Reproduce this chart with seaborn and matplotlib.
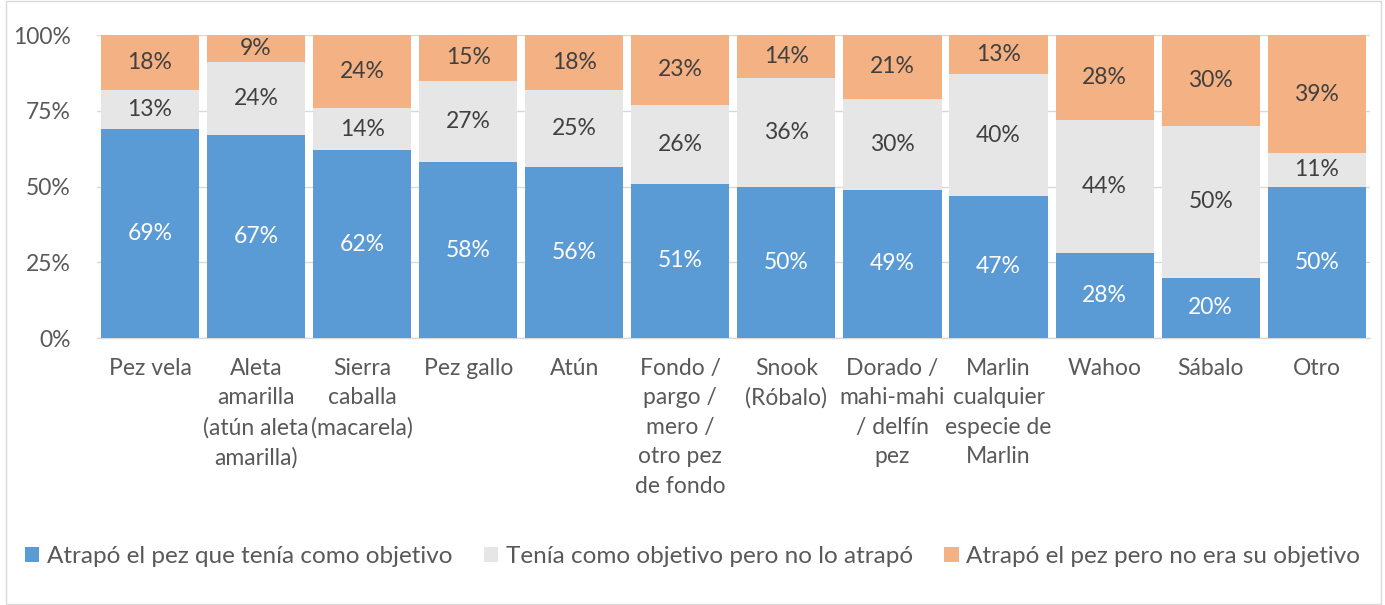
import numpy as np
import pandas as pd
import matplotlib.pyplot as plt
import seaborn as sns
from matplotlib.patches import Rectangle, Patch

# datos
categorias = ['Pez vela', 'Aleta\namarilla\n(atún aleta\namarilla)', 'Sierra\ncaballa\n(macarela)',
              'Pez gallo', 'Atún', 'Fondo /\npargo /\nmero /\notro pez\nde fondo', 'Snook\n(Róbalo)',
              'Dorado /\nmahi-mahi\n/ delfín\npez', 'Marlin\ncualquier\nespecie de\nMarlin',
              'Wahoo', 'Sábalo', 'Otro']
atrapo_objetivo = [69, 67, 62, 58, 56, 51, 50, 49, 47, 28, 20, 50]
no_atrapo = [13, 24, 14, 27, 25, 26, 36, 30, 40, 44, 50, 11]
no_objetivo = [18, 9, 24, 15, 18, 23, 14, 21, 13, 28, 30, 39]
series = ['Atrapó el pez que tenía como objetivo', 'Tenía como objetivo pero no lo atrapó',
          'Atrapó el pez pero no era su objetivo']
colores = ['#5B9BD5', '#E7E6E6', '#F4B183']

sns.set_theme(style='white')
plt.rcParams['font.family'] = ['Lato', 'DejaVu Sans']

valores = np.array([atrapo_objetivo, no_atrapo, no_objetivo], dtype=float)
pct = valores / valores.sum(axis=0) * 100

fig = plt.figure(figsize=(13.85, 6.05), dpi=100)
ax = fig.add_axes([0.070, 0.441, 0.919, 0.501])

x = [str(i) for i in range(len(categorias))]
base = np.zeros(len(categorias))
for k in range(3):
    df = pd.DataFrame({'cat': x, 'val': pct[k]})
    sns.barplot(data=df, x='cat', y='val', color=colores[k], saturation=1, width=0.925,
                bottom=base, ax=ax, zorder=3, edgecolor='none', linewidth=0)
    base = base + pct[k]

# etiquetas de datos
base = np.zeros(len(categorias))
for k in range(3):
    for i in range(len(categorias)):
        yc = base[i] + pct[k][i] / 2
        ax.text(i, yc, f'{int(valores[k][i])}%', ha='center', va='center', fontsize=16.5,
                color='white' if k == 0 else '#404040', zorder=4)
    base = base + pct[k]

ax.set_ylim(0, 100)
ax.set_xlim(-0.5, len(categorias) - 0.5)
ax.set_yticks([0, 25, 50, 75, 100])
ax.set_yticklabels(['0%', '25%', '50%', '75%', '100%'], fontsize=16.5, color='#595959')
ax.set_xticks(range(len(categorias)))
ax.set_xticklabels(categorias, fontsize=16.5, color='#595959', linespacing=1.5, va='top')
ax.tick_params(axis='x', length=0, pad=14)
ax.tick_params(axis='y', length=0, pad=19)
ax.set_xlabel('')
ax.set_ylabel('')
ax.grid(axis='y', color='#D9D9D9', linewidth=1, zorder=0)
for s in ['left', 'right', 'top']:
    ax.spines[s].set_visible(False)
ax.spines['bottom'].set_color('#D9D9D9')
ax.spines['bottom'].set_linewidth(1)

handles = [Patch(facecolor=c, edgecolor='none') for c in colores]
fig.legend(handles, series, loc='center', bbox_to_anchor=(0.5, 0.08), ncol=3, frameon=False,
           fontsize=17.5, labelcolor='#595959', handlelength=0.6, handleheight=0.6,
           handletextpad=0.3, columnspacing=1.3)

fig.patches.append(Rectangle((0.004, 0.002), 0.993, 0.996, transform=fig.transFigure,
                             fill=False, edgecolor='#D9D9D9', linewidth=1))

plt.savefig('out.png', dpi=100)
